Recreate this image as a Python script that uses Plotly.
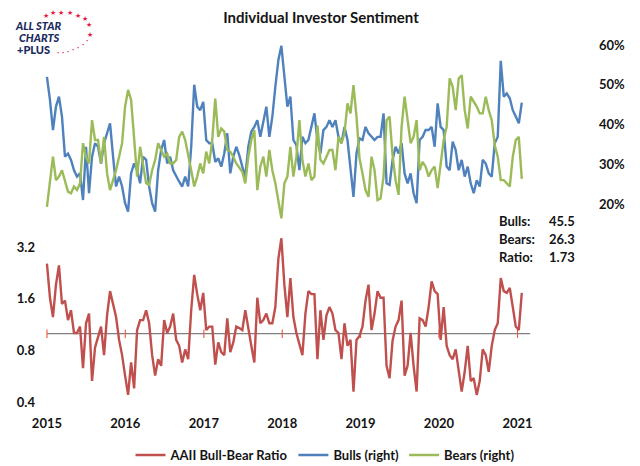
import pandas as pd
import plotly.graph_objects as go

# ---------------- data (biweekly AAII survey) ----------------
start_date = "2015-01-01"

bulls = [
    52.0, 46.2, 38.6, 44.5, 47.0, 42.0, 31.9, 32.7, 31.1, 28.5,
    26.9, 27.7, 21.0, 34.4, 22.7, 31.9, 35.3, 34.4, 30.2, 35.3,
    37.8, 40.3, 31.9, 24.4, 26.9, 24.4, 20.2, 18.1, 27.7, 30.2,
    28.5, 25.2, 31.9, 31.1, 24.4, 20.2, 18.1, 28.5, 33.6, 36.1,
    30.2, 31.9, 28.5, 26.9, 25.6, 24.4, 26.9, 24.4, 34.4, 50.0,
    44.5, 43.6, 45.7, 36.1, 35.3, 35.3, 30.6, 31.5, 29.4, 32.7,
    37.8, 27.7, 31.9, 34.4, 32.3, 29.4, 26.9, 34.4, 38.2, 39.4,
    41.1, 36.9, 41.1, 44.5, 36.9, 42.0, 49.5, 56.2, 59.8, 51.2,
    44.5, 47.0, 36.1, 34.8, 28.5, 36.9, 35.3, 36.1, 39.8, 42.8,
    36.1, 32.7, 38.6, 39.4, 41.1, 39.4, 41.1, 36.9, 35.3, 39.4,
    36.1, 28.5, 21.8, 32.7, 36.5, 36.1, 39.4, 37.8, 36.9, 36.1,
    36.9, 36.9, 42.8, 25.2, 24.8, 31.1, 34.4, 32.7, 35.3, 27.7,
    25.2, 27.7, 22.7, 20.2, 36.1, 36.9, 38.6, 38.6, 39.4, 34.4,
    45.3, 39.4, 38.6, 29.4, 28.5, 35.7, 33.6, 28.5, 31.1, 26.9,
    29.4, 25.2, 22.7, 26.0, 24.4, 31.1, 30.2, 27.7, 26.9, 35.3,
    36.9, 56.0, 47.0, 47.8, 46.6, 43.6, 42.0, 40.3, 45.5,
]

bears = [
    19.3, 26.0, 31.9, 26.0, 26.9, 28.5, 26.0, 23.1, 22.7, 24.4,
    23.5, 25.2, 35.3, 31.9, 30.2, 41.1, 36.1, 36.1, 30.2, 36.9,
    27.7, 23.5, 26.0, 28.5, 31.9, 35.3, 44.5, 48.7, 46.2, 35.3,
    26.9, 34.4, 30.2, 25.2, 24.8, 28.5, 31.1, 35.3, 33.6, 31.9,
    32.7, 30.2, 30.2, 31.1, 36.9, 38.2, 36.1, 32.7, 28.5, 24.4,
    26.9, 30.2, 27.7, 33.2, 30.2, 36.1, 46.5, 36.9, 39.0, 38.2,
    33.6, 33.2, 31.9, 30.2, 29.0, 28.1, 25.2, 31.9, 36.1, 38.6,
    23.5, 29.4, 31.9, 26.9, 33.6, 28.5, 25.2, 20.2, 16.4, 25.2,
    26.9, 34.4, 26.9, 31.9, 41.1, 31.1, 26.9, 30.2, 26.0, 26.9,
    39.8, 31.1, 30.2, 31.9, 33.6, 33.6, 28.5, 36.9, 35.3, 37.8,
    45.3, 42.8, 49.9, 42.0, 31.5, 27.7, 23.5, 21.8, 31.9, 28.5,
    21.0, 21.4, 26.9, 41.1, 42.0, 32.3, 26.0, 22.3, 39.4, 47.0,
    41.5, 35.3, 36.9, 41.1, 28.5, 30.6, 29.4, 26.9, 28.5, 29.4,
    24.0, 30.2, 36.1, 39.4, 51.6, 49.5, 43.6, 51.6, 52.4, 43.6,
    39.0, 47.0, 45.7, 44.5, 42.8, 42.8, 47.0, 43.6, 41.1, 34.8,
    31.9, 26.0, 26.0, 25.2, 24.4, 31.9, 36.1, 36.9, 26.3,
]

ratio = [
    2.56, 1.62, 1.25, 1.93, 2.50, 1.49, 1.56, 1.20, 1.37, 1.01,
    1.01, 1.10, 0.63, 1.15, 1.31, 0.53, 0.83, 0.97, 1.10, 0.75,
    1.28, 1.77, 1.49, 1.25, 0.92, 0.75, 0.57, 0.44, 0.68, 0.48,
    1.05, 1.20, 1.20, 1.37, 1.15, 0.75, 0.57, 0.71, 0.65, 1.20,
    1.01, 1.10, 1.31, 0.92, 0.85, 0.68, 0.81, 0.71, 1.37, 2.20,
    1.70, 1.37, 1.73, 1.05, 1.10, 1.10, 0.66, 0.89, 0.78, 0.75,
    1.23, 0.78, 0.89, 1.10, 1.08, 1.05, 1.37, 1.05, 0.85, 0.68,
    1.62, 1.15, 1.20, 1.31, 1.15, 1.15, 1.43, 2.73, 3.60, 1.93,
    1.25, 2.11, 1.25, 1.01, 0.87, 0.75, 1.31, 1.77, 1.70, 1.70,
    0.71, 1.37, 0.92, 1.28, 1.43, 1.31, 1.05, 1.01, 0.71, 1.15,
    0.85, 0.92, 0.46, 0.92, 0.97, 1.10, 1.56, 1.93, 1.05, 1.31,
    1.77, 1.62, 1.62, 0.65, 0.55, 0.91, 1.10, 1.20, 1.56, 0.57,
    0.65, 1.01, 0.65, 0.46, 1.23, 1.20, 1.10, 1.43, 2.02, 1.77,
    1.70, 0.92, 1.43, 0.85, 0.75, 0.71, 0.81, 0.60, 0.46, 0.60,
    0.85, 0.53, 0.55, 0.44, 0.53, 0.81, 0.75, 0.60, 0.85, 1.05,
    1.15, 2.11, 1.77, 1.73, 1.85, 1.43, 1.10, 1.05, 1.73,
]

year_ticks = [f"{y}-01-01" for y in range(2015, 2022)]
year_labels = [str(y) for y in range(2015, 2022)]
ratio_ticks = [0.4, 0.8, 1.6, 3.2]
ratio_labels = ["0.4", "0.8", "1.6", "3.2"]
pct_ticks = [20, 30, 40, 50, 60]
pct_labels = ["20%", "30%", "40%", "50%", "60%"]
baseline_value = 1.0
baseline_dates = ["2015-01-01", "2021-03-01"]
latest_labels = ["Bulls:", "Bears:", "Ratio:"]
latest_values = ["45.5", "26.3", "1.73"]

dates = pd.date_range(start_date, periods=len(bulls), freq="14D")

# ---------------- styling ----------------
FONT = "Lato, 'Open Sans', sans-serif"
TXT = "#141414"
RED, BLUE, GREEN = "#C0504D", "#4F81BD", "#9BBB59"
NAVY, STAR = "#1B2A5E", "#E5173F"

# plot area in page pixels (page is shown with an 8px body margin)
PL, PR, PT, PB = 36, 598, 40, 408
OFF = 8

fig = go.Figure()

# ratio axis baseline at 1.0 with year tick marks
fig.add_trace(go.Scatter(x=baseline_dates, y=[baseline_value] * 2, mode="lines",
                         line=dict(color="#808080", width=1.2), showlegend=False,
                         hoverinfo="skip", yaxis="y"))
fig.add_trace(go.Scatter(x=year_ticks, y=[baseline_value] * len(year_ticks), mode="markers",
                         marker=dict(symbol="line-ns-open", size=6, line=dict(color="#808080", width=1.1)),
                         showlegend=False, hoverinfo="skip", yaxis="y"))

fig.add_trace(go.Scatter(x=dates, y=ratio, mode="lines", name="AAII Bull-Bear Ratio",
                         line=dict(color=RED, width=2.4), yaxis="y"))
fig.add_trace(go.Scatter(x=dates, y=bulls, mode="lines", name="Bulls (right)",
                         line=dict(color=BLUE, width=2.4), yaxis="y2"))
fig.add_trace(go.Scatter(x=dates, y=bears, mode="lines", name="Bears (right)",
                         line=dict(color=GREEN, width=2.4), yaxis="y2"))

tickfont = dict(family=FONT, size=13, color=TXT, weight="bold")

fig.update_layout(
    width=640, height=466,
    margin=dict(l=PL - OFF, r=640 - (PR - OFF), t=PT - OFF, b=466 - (PB - OFF), autoexpand=False),
    paper_bgcolor="white", plot_bgcolor="white",
    title=dict(text="Individual Investor Sentiment", x=(321 - OFF) / 640, xanchor="center",
               y=1 - (18 - OFF) / 466, yanchor="middle",
               font=dict(family=FONT, size=15, color=TXT, weight="bold")),
    xaxis=dict(type="date", range=["2014-11-11", "2022-01-11"],
               tickmode="array", tickvals=year_ticks, ticktext=year_labels,
               showgrid=False, zeroline=False, showline=False, ticks="",
               tickfont=tickfont, ticklabelstandoff=6, automargin=False),
    yaxis=dict(type="log", range=[-0.4330, 1.7115],
               tickmode="array", tickvals=ratio_ticks, ticktext=ratio_labels,
               showgrid=False, zeroline=False, showline=False, ticks="",
               tickfont=tickfont, automargin=False),
    yaxis2=dict(overlaying="y", side="right", range=[-31.32, 61.26],
                tickmode="array", tickvals=pct_ticks, ticktext=pct_labels,
                showgrid=False, zeroline=False, showline=False, ticks="",
                tickfont=tickfont, automargin=False),
    legend=dict(orientation="h", xref="container", yref="container",
                x=(325 - OFF) / 640, xanchor="center", y=1 - (455 - OFF) / 466, yanchor="middle",
                font=dict(family=FONT, size=13, color=TXT, weight="bold"),
                itemwidth=30, bgcolor="rgba(0,0,0,0)"),
    showlegend=True,
)

def px_to_paper(px, py):
    return (px - PL) / (PR - PL), (PB - py) / (PB - PT)

# latest readings box
for k, (lab, val) in enumerate(zip(latest_labels, latest_values)):
    py = 221 + k * 18
    xl, yy = px_to_paper(497, py)
    xr, _ = px_to_paper(577, py)
    fig.add_annotation(x=xl, y=yy, xref="paper", yref="paper", text=lab, showarrow=False,
                       xanchor="left", yanchor="middle",
                       font=dict(family=FONT, size=13, color=TXT, weight="bold"))
    fig.add_annotation(x=xr, y=yy, xref="paper", yref="paper", text=val, showarrow=False,
                       xanchor="right", yanchor="middle",
                       font=dict(family=FONT, size=13, color=TXT, weight="bold"))

# logo
logo_text = [("ALL STAR", 38, 25, 11, "italic"), ("CHARTS", 39, 37, 11, "italic"), ("+PLUS", 33, 49, 11, "normal")]
for txt, px, py, sz, st in logo_text:
    xx, yy = px_to_paper(px, py)
    fig.add_annotation(x=xx, y=yy, xref="paper", yref="paper", text=txt, showarrow=False,
                       xanchor="center", yanchor="middle", borderpad=0,
                       font=dict(family=FONT, size=sz, color=NAVY, weight=900, style=st))
star_pts = [(46, 15), (53, 13), (61, 13), (70, 13), (78, 15), (85, 19), (89, 24), (90, 34)]
for px, py in star_pts:
    xx, yy = px_to_paper(px, py)
    fig.add_annotation(x=xx, y=yy, xref="paper", yref="paper", text="★", showarrow=False,
                       xanchor="center", yanchor="middle", borderpad=0, font=dict(size=7, color=STAR))
dot_pts = [(87, 41), (83, 45), (78, 48), (73, 50), (68, 52), (63, 53), (58, 53)]
for px, py in dot_pts:
    xx, yy = px_to_paper(px, py)
    fig.add_annotation(x=xx, y=yy, xref="paper", yref="paper", text="•", showarrow=False,
                       xanchor="center", yanchor="middle", borderpad=0, font=dict(size=6, color=STAR))

fig.write_html("out.html")
